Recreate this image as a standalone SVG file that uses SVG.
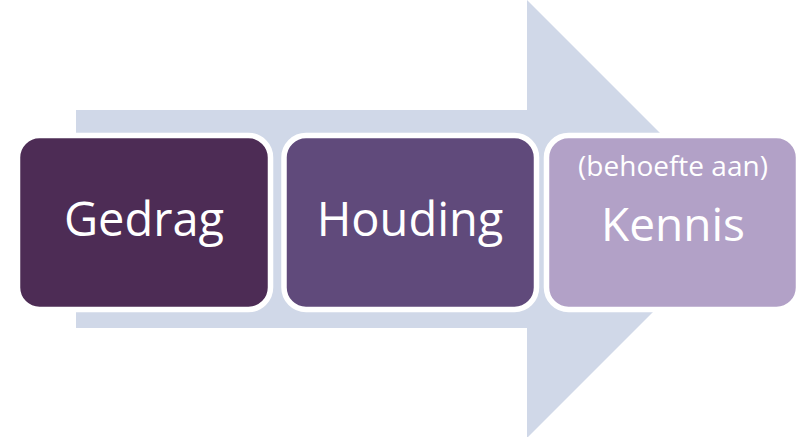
<svg xmlns="http://www.w3.org/2000/svg" width="802" height="437" viewBox="0 0 802 437">
<style>
.box{stroke:#fff;stroke-width:5.5}
.t{font-family:"Open Sans","Noto Sans",sans-serif;fill:#fff;text-anchor:middle}
</style>
<rect width="802" height="437" fill="#fff"/>
<g id="arrow">
<polygon points="76,110 527,110 527,0 746,219 527,438 527,328 76,328" fill="#D0D8E8"/>
</g>
<g id="connectors"></g>
<g id="gedrag">
<rect class="box" x="17.5" y="135.5" width="253" height="174" rx="22" fill="#4D2C55"/>
<text class="t" x="144" y="235.5" font-size="47">Gedrag</text>
</g>
<g id="houding">
<rect class="box" x="284" y="135.5" width="252.5" height="174" rx="22" fill="#604A7B"/>
<text class="t" x="410" y="235.5" font-size="47">Houding</text>
</g>
<g id="kennis">
<rect class="box" x="546.5" y="135.5" width="252" height="174" rx="22" fill="#B2A1C7"/>
<text class="t" x="673" y="176" font-size="28">(behoefte aan)</text>
<text class="t" x="673" y="241" font-size="46">Kennis</text>
</g>
</svg>
